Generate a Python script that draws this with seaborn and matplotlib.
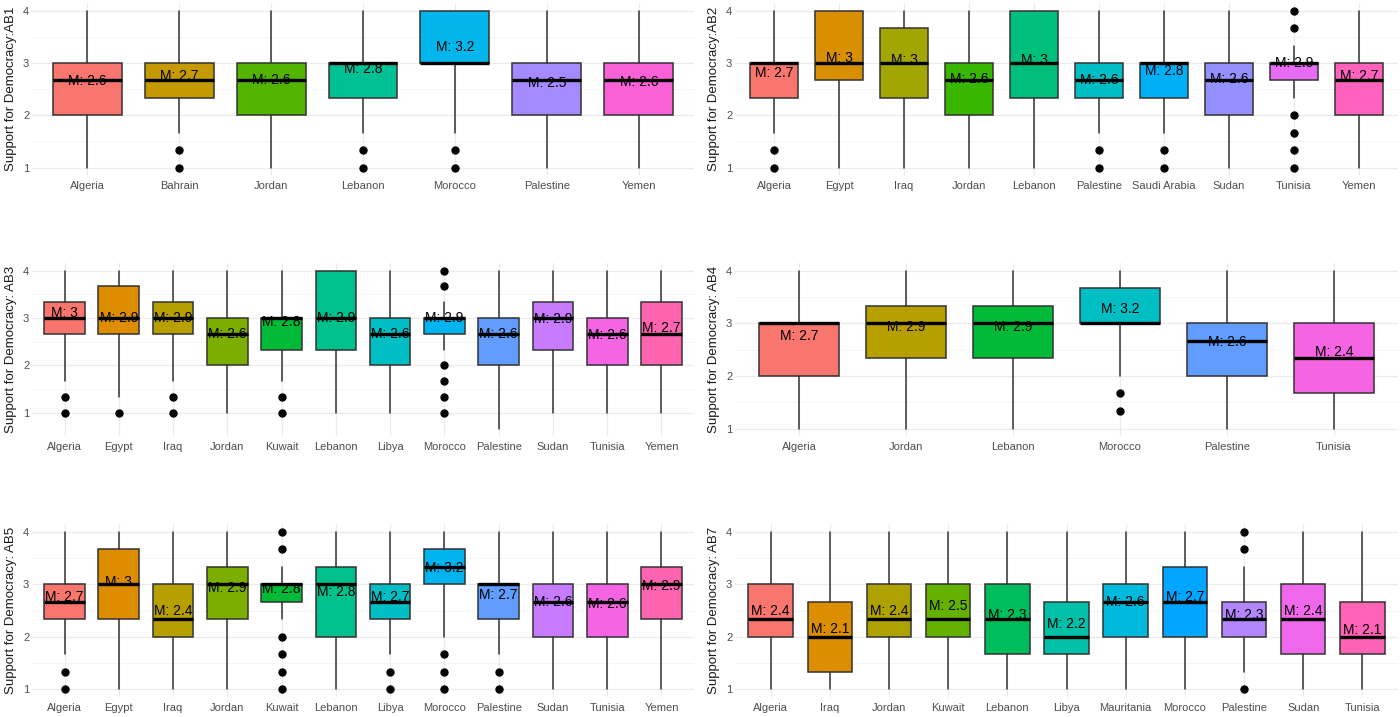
import numpy as np
import seaborn as sns
import matplotlib.pyplot as plt
from matplotlib.ticker import FixedLocator

# Box summaries (scale is in thirds, 1..4)
ab1_countries = ['Algeria', 'Bahrain', 'Jordan', 'Lebanon', 'Morocco', 'Palestine', 'Yemen']
ab1_q1 = [2, 2.333, 2, 2.333, 3, 2, 2]
ab1_med = [2.667, 2.667, 2.667, 3, 3, 2.667, 2.667]
ab1_q3 = [3, 3, 3, 3, 4, 3, 3]
ab1_lo = [1, 1.667, 1, 1.667, 1.667, 1, 1]
ab1_hi = [4, 4, 4, 4, 4, 4, 4]
ab1_out = [[], [1.333, 1], [], [1.333, 1], [1.333, 1], [], []]
ab1_mean = [2.58, 2.68, 2.61, 2.82, 3.24, 2.54, 2.57]

ab2_countries = ['Algeria', 'Egypt', 'Iraq', 'Jordan', 'Lebanon', 'Palestine',
                 'Saudi Arabia', 'Sudan', 'Tunisia', 'Yemen']
ab2_q1 = [2.333, 2.667, 2.333, 2, 2.333, 2.333, 2.333, 2, 2.667, 2]
ab2_med = [3, 3, 3, 2.667, 3, 2.667, 3, 2.667, 3, 2.667]
ab2_q3 = [3, 4, 3.667, 3, 4, 3, 3, 3, 3, 3]
ab2_lo = [1.667, 1, 1, 1, 1, 1.667, 1.667, 1, 2.333, 1]
ab2_hi = [4, 4, 4, 4, 4, 4, 4, 4, 3.333, 4]
ab2_out = [[1.333, 1], [], [], [], [], [1.333, 1], [1.333, 1], [],
           [4, 3.667, 2, 1.667, 1.333, 1], []]
ab2_mean = [2.74, 3.03, 2.98, 2.62, 2.98, 2.6, 2.78, 2.62, 2.93, 2.68]

ab3_countries = ['Algeria', 'Egypt', 'Iraq', 'Jordan', 'Kuwait', 'Lebanon', 'Libya',
                 'Morocco', 'Palestine', 'Sudan', 'Tunisia', 'Yemen']
ab3_q1 = [2.667, 2.667, 2.667, 2, 2.333, 2.333, 2, 2.667, 2, 2.333, 2, 2]
ab3_med = [3, 3, 3, 2.667, 3, 3, 2.667, 3, 2.667, 3, 2.667, 2.667]
ab3_q3 = [3.333, 3.667, 3.333, 3, 3, 4, 3, 3, 3, 3.333, 3, 3.333]
ab3_lo = [1.667, 1.333, 1.667, 1, 1.667, 1, 1, 2.333, 0.667, 1, 1, 1]
ab3_hi = [4, 4, 4, 4, 4, 4, 4, 3.333, 4, 4, 4, 4]
ab3_out = [[1.333, 1], [1], [1.333, 1], [], [1.333, 1], [], [],
           [4, 3.667, 2, 1.667, 1.333, 1], [], [], [], []]
ab3_mean = [3.04, 2.93, 2.93, 2.59, 2.84, 2.94, 2.59, 2.93, 2.59, 2.9, 2.58, 2.73]

ab4_countries = ['Algeria', 'Jordan', 'Lebanon', 'Morocco', 'Palestine', 'Tunisia']
ab4_q1 = [2, 2.333, 2.333, 3, 2, 1.667]
ab4_med = [3, 3, 3, 3, 2.667, 2.333]
ab4_q3 = [3, 3.333, 3.333, 3.667, 3, 3]
ab4_lo = [1, 1, 1, 2, 1, 1]
ab4_hi = [4, 4, 4, 4, 4, 4]
ab4_out = [[], [], [], [1.667, 1.333], [], []]
ab4_mean = [2.69, 2.86, 2.86, 3.2, 2.58, 2.39]

ab5_countries = ['Algeria', 'Egypt', 'Iraq', 'Jordan', 'Kuwait', 'Lebanon', 'Libya',
                 'Morocco', 'Palestine', 'Sudan', 'Tunisia', 'Yemen']
ab5_q1 = [2.333, 2.333, 2, 2.333, 2.667, 2, 2.333, 3, 2.333, 2, 2, 2.333]
ab5_med = [2.667, 3, 2.333, 3, 3, 3, 2.667, 3.333, 3, 2.667, 2.667, 3]
ab5_q3 = [3, 3.667, 3, 3.333, 3, 3.333, 3, 3.667, 3, 3, 3, 3.333]
ab5_lo = [1.667, 1, 1, 1, 2.333, 1, 1.667, 2, 1.667, 1, 1, 1]
ab5_hi = [4, 4, 4, 4, 3.333, 4, 4, 4, 4, 4, 4, 4]
ab5_out = [[1.333, 1], [], [], [], [4, 3.667, 2, 1.667, 1.333, 1], [], [1.333, 1],
           [1.667, 1.333, 1], [1.333, 1], [], [], []]
ab5_mean = [2.69, 2.97, 2.42, 2.86, 2.84, 2.78, 2.69, 3.24, 2.72, 2.6, 2.56, 2.9]

ab7_countries = ['Algeria', 'Iraq', 'Jordan', 'Kuwait', 'Lebanon', 'Libya',
                 'Mauritania', 'Morocco', 'Palestine', 'Sudan', 'Tunisia']
ab7_q1 = [2, 1.333, 2, 2, 1.667, 1.667, 2, 2, 2, 1.667, 1.667]
ab7_med = [2.333, 2, 2.333, 2.333, 2.333, 2, 2.667, 2.667, 2.333, 2.333, 2]
ab7_q3 = [3, 2.667, 3, 3, 3, 2.667, 3, 3.333, 2.667, 3, 2.667]
ab7_lo = [1, 1, 1, 1, 1, 1, 1, 1, 1.333, 1, 1]
ab7_hi = [4, 4, 4, 4, 4, 4, 4, 4, 3.333, 4, 4]
ab7_out = [[], [], [], [], [], [], [], [], [4, 3.667, 1], [], []]
ab7_mean = [2.43, 2.07, 2.43, 2.51, 2.34, 2.18, 2.59, 2.69, 2.34, 2.43, 2.06]

ylabels = ['Support for Democracy:AB1', 'Support for Democracy:AB2',
           'Support for Democracy: AB3', 'Support for Democracy: AB4',
           'Support for Democracy: AB5', 'Support for Democracy: AB7']


def hue_pal(n, l=65, c=100):
    # ggplot2 default discrete palette: hcl hues from 15 to 375
    hs = np.linspace(15, 375, n + 1)[:-1]
    xn, yn, zn = 95.047, 100.0, 108.883
    un = 4 * xn / (xn + 15 * yn + 3 * zn)
    vn = 9 * yn / (xn + 15 * yn + 3 * zn)
    Y = yn * ((l + 16) / 116) ** 3
    m = np.array([[3.240479, -1.537150, -0.498535],
                  [-0.969256, 1.875992, 0.041556],
                  [0.055648, -0.204043, 1.057311]])
    cols = []
    for h in hs:
        u = c * np.cos(np.radians(h))
        v = c * np.sin(np.radians(h))
        up = u / (13 * l) + un
        vp = v / (13 * l) + vn
        X = 9 * Y * up / (4 * vp)
        Z = Y * (12 - 3 * up - 20 * vp) / (4 * vp)
        rgb = m @ np.array([X, Y, Z]) / 100
        rgb = np.where(rgb <= 0.0031308, 12.92 * rgb, 1.055 * np.abs(rgb) ** (1 / 2.4) - 0.055)
        cols.append(tuple(np.clip(rgb, 0, 1)))
    return cols


sns.set_theme(style="whitegrid")
plt.rcParams['font.family'] = ['Liberation Sans', 'DejaVu Sans']

panels = [
    (ab1_countries, ab1_q1, ab1_med, ab1_q3, ab1_lo, ab1_hi, ab1_out, ab1_mean),
    (ab2_countries, ab2_q1, ab2_med, ab2_q3, ab2_lo, ab2_hi, ab2_out, ab2_mean),
    (ab3_countries, ab3_q1, ab3_med, ab3_q3, ab3_lo, ab3_hi, ab3_out, ab3_mean),
    (ab4_countries, ab4_q1, ab4_med, ab4_q3, ab4_lo, ab4_hi, ab4_out, ab4_mean),
    (ab5_countries, ab5_q1, ab5_med, ab5_q3, ab5_lo, ab5_hi, ab5_out, ab5_mean),
    (ab7_countries, ab7_q1, ab7_med, ab7_q3, ab7_lo, ab7_hi, ab7_out, ab7_mean),
]

W, H = 1400, 717
fig = plt.figure(figsize=(14, 7.17), dpi=100)
fig.patch.set_facecolor('white')

col_x = [(32, 694), (735, 1398)]
row_y = [(2.8, 175.5), (262.8, 436.5), (523.8, 697.2)]

for k, (countries, q1, med, q3, lo, hi, out, mean) in enumerate(panels):
    r, cidx = divmod(k, 2)
    x0, x1 = col_x[cidx]
    y0, y1 = row_y[r]
    ax = fig.add_axes([x0 / W, 1 - y1 / H, (x1 - x0) / W, (y1 - y0) / H])
    n = len(countries)
    colors = hue_pal(n)

    stats = []
    for i in range(n):
        stats.append({'med': med[i], 'q1': q1[i], 'q3': q3[i],
                      'whislo': lo[i], 'whishi': hi[i],
                      'fliers': np.array(out[i], dtype=float), 'label': countries[i]})
    bp = ax.bxp(stats, positions=np.arange(n), widths=0.75, patch_artist=True,
                showcaps=False, manage_ticks=False,
                boxprops=dict(edgecolor='#333333', linewidth=1.1),
                whiskerprops=dict(color='#333333', linewidth=1.1),
                medianprops=dict(color='black', linewidth=2.4, solid_capstyle='butt'),
                flierprops=dict(marker='o', markerfacecolor='black',
                                markeredgecolor='black', markersize=5))
    for patch, col in zip(bp['boxes'], colors):
        patch.set_facecolor(col)

    for i in range(n):
        lab = f"M: {round(mean[i], 1):g}"
        ax.text(i, mean[i] + 0.07, lab, ha='center', va='center',
                fontsize=10, color='black', zorder=5)

    lo_all = min(min(lo), min([min(o) for o in out if o] + [10]))
    hi_all = max(max(hi), max([max(o) for o in out if o] + [0]))
    pad = (hi_all - lo_all) * 0.05
    ax.set_ylim(lo_all - pad, hi_all + pad)
    ax.set_xlim(-0.6, n - 0.4)

    ax.set_xticks(np.arange(n))
    ax.set_xticklabels(countries)
    ax.set_yticks([1, 2, 3, 4])
    ax.yaxis.set_minor_locator(FixedLocator([1.5, 2.5, 3.5]))
    ax.grid(True, which='major', color='#EBEBEB', linewidth=0.9)
    ax.grid(True, which='minor', axis='y', color='#F4F4F4', linewidth=0.6)
    ax.set_axisbelow(True)
    ax.set_facecolor('white')
    for s in ax.spines.values():
        s.set_visible(False)
    ax.tick_params(axis='x', labelsize=8, colors='#4D4D4D', pad=4, length=0)
    ax.tick_params(axis='y', which='both', labelsize=8, colors='#4D4D4D', pad=2, length=0)
    ax.set_xlabel('')
    ax.set_ylabel(ylabels[k], fontsize=9.5, color='#1A1A1A', labelpad=4)

fig.savefig('out.png', dpi=100, facecolor='white')
